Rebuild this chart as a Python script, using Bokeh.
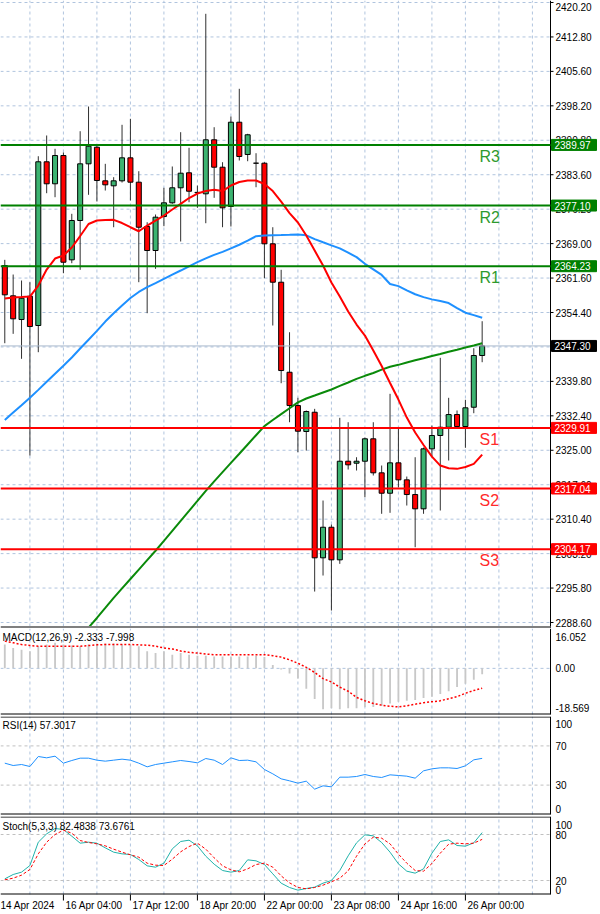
from bokeh.plotting import figure
from bokeh.layouts import column
from bokeh.models import ColumnDataSource, Range1d
from bokeh.core.properties import value
from bokeh.embed import file_html
from bokeh.resources import INLINE

FONT = value("Liberation Sans")

# ---------------- data ----------------
bar_index = list(range(58))
open_p = [2364.37, 2357.94, 2352.91, 2357.86, 2351.64, 2386.39, 2381.72, 2387.72, 2365.58, 2373.93,
          2385.96, 2389.48, 2382.35, 2381.29, 2382.35, 2387.23, 2382.06, 2372.65, 2367.56, 2374.77,
          2377.68, 2380.87, 2384.05, 2379.80, 2379.59, 2391.06, 2385.24, 2376.90, 2394.79, 2387.94,
          2386.09, 2386.09, 2368.98, 2360.83, 2341.72, 2334.65, 2329.14, 2333.23, 2302.33, 2308.82,
          2301.90, 2322.83, 2322.41, 2322.83, 2327.59, 2320.37, 2316.04, 2322.49, 2318.88, 2315.76,
          2312.73, 2325.46, 2328.29, 2330.05, 2332.74, 2330.20, 2334.29, 2345.27]
high_p = [2365.58, 2362.46, 2361.19, 2360.83, 2387.57, 2391.97, 2389.15, 2388.36, 2375.35, 2392.88,
          2398.12, 2389.85, 2385.96, 2383.12, 2394.24, 2395.51, 2384.39, 2373.56, 2375.20, 2380.87,
          2385.39, 2392.67, 2389.36, 2381.35, 2417.80, 2393.73, 2386.30, 2396.00, 2401.88, 2392.33,
          2388.21, 2386.30, 2372.50, 2363.46, 2350.21, 2336.29, 2333.60, 2333.95, 2314.49, 2309.40,
          2332.04, 2331.11, 2323.68, 2327.86, 2331.11, 2321.92, 2337.14, 2330.05, 2319.58, 2323.68,
          2325.74, 2330.41, 2344.78, 2336.29, 2333.60, 2335.87, 2346.82, 2352.55]
low_p = [2347.88, 2349.87, 2344.57, 2324.04, 2345.97, 2379.72, 2378.87, 2362.74, 2364.86, 2363.46,
         2379.38, 2377.96, 2380.29, 2372.50, 2381.99, 2378.17, 2360.83, 2354.25, 2363.67, 2372.72,
         2377.47, 2369.47, 2377.81, 2376.62, 2373.35, 2378.74, 2372.50, 2372.65, 2386.66, 2386.51,
         2380.99, 2361.68, 2351.64, 2339.39, 2331.11, 2324.74, 2325.10, 2295.17, 2298.57, 2291.14,
         2301.05, 2321.07, 2320.86, 2315.19, 2319.80, 2311.67, 2311.88, 2317.31, 2313.43, 2304.58,
         2311.67, 2323.68, 2312.37, 2322.98, 2329.77, 2325.68, 2333.02, 2343.85]
close_p = [2358.15, 2353.06, 2357.43, 2351.42, 2386.39, 2381.72, 2387.72, 2365.07, 2373.93, 2385.96,
           2389.70, 2382.42, 2381.50, 2382.35, 2387.23, 2382.06, 2372.50, 2367.56, 2374.63, 2377.68,
           2380.87, 2383.97, 2380.14, 2379.90, 2391.06, 2385.24, 2376.62, 2394.79, 2387.51, 2392.12,
           2386.09, 2368.98, 2360.83, 2342.08, 2334.65, 2329.20, 2333.38, 2302.33, 2308.82, 2301.90,
           2322.83, 2322.07, 2322.83, 2327.59, 2320.37, 2316.04, 2322.49, 2318.88, 2315.76, 2312.73,
           2325.46, 2328.29, 2330.05, 2332.74, 2330.20, 2334.17, 2345.27, 2347.30]

ma_red = [2357.36, 2357.58, 2357.68, 2357.79, 2360.12, 2363.52, 2365.85, 2366.49, 2368.19, 2370.63,
          2373.18, 2373.92, 2374.03, 2374.07, 2373.39, 2372.50, 2371.65, 2372.86, 2373.92, 2374.98,
          2376.26, 2377.47, 2378.70, 2379.65, 2380.18, 2380.44, 2380.18, 2381.35, 2382.09, 2382.41,
          2382.41, 2381.67, 2380.18, 2377.95, 2375.51, 2373.50, 2370.74, 2367.55, 2364.37, 2360.76,
          2357.79, 2354.60, 2351.84, 2349.51, 2346.33, 2343.03, 2339.43, 2335.92, 2332.10, 2328.92,
          2326.27, 2323.82, 2321.91, 2321.34, 2321.21, 2321.60, 2322.27, 2324.25]
ma_blue = [2331.57, 2333.16, 2334.71, 2336.31, 2337.98, 2339.70, 2341.40, 2343.10, 2344.86, 2346.75,
           2348.62, 2350.49, 2352.48, 2354.24, 2355.88, 2357.47, 2358.76, 2359.78, 2360.65, 2361.55,
           2362.44, 2363.31, 2364.20, 2365.09, 2365.90, 2366.64, 2367.28, 2368.00, 2368.78, 2369.65,
           2370.59, 2370.74, 2370.80, 2370.84, 2370.89, 2370.95, 2370.78, 2369.97, 2369.31, 2368.66,
           2368.02, 2367.09, 2366.15, 2364.73, 2363.56, 2362.37, 2360.44, 2360.00, 2359.10, 2358.28,
           2357.66, 2357.19, 2356.83, 2356.41, 2355.35, 2354.35, 2353.84, 2353.27]
ma_green_bars = list(range(10, 58))
ma_green = [2287.53, 2289.56, 2291.69, 2293.83, 2295.83, 2297.84, 2299.84, 2301.83, 2303.83, 2305.93,
            2308.05, 2310.18, 2312.28, 2314.40, 2316.54, 2318.56, 2320.51, 2322.47, 2324.42, 2326.39,
            2328.35, 2330.28, 2331.57, 2332.83, 2334.08, 2335.33, 2336.14, 2336.77, 2337.41, 2338.05,
            2338.81, 2339.55, 2340.32, 2340.96, 2341.57, 2342.27, 2342.89, 2343.29, 2343.78, 2344.25,
            2344.69, 2345.16, 2345.60, 2346.05, 2346.50, 2346.96, 2347.39, 2347.87]

macd_hist = [9.60, 8.23, 7.54, 6.86, 8.92, 9.60, 10.29, 9.60, 9.19, 8.92,
             9.60, 10.01, 10.01, 10.01, 9.74, 9.47, 8.92, 6.86, 6.17, 6.86,
             5.49, 6.17, 5.49, 5.08, 5.08, 4.80, 4.80, 4.80, 4.80, 4.80,
             5.08, 4.53, 1.37, -0.41, -2.06, -4.12, -8.23, -12.35, -16.46, -16.05,
             -16.46, -16.05, -16.05, -15.50, -15.50, -15.09, -14.13, -13.44, -13.03, -12.76,
             -11.93, -11.39, -10.29, -9.19, -7.54, -6.17, -4.53, -2.333]
macd_signal = [10.97, 10.29, 9.60, 9.19, 8.92, 8.92, 8.92, 8.92, 8.92, 8.92,
               9.19, 9.47, 9.60, 9.60, 9.60, 9.60, 9.47, 9.33, 8.92, 8.23,
               7.82, 7.00, 6.45, 6.17, 5.76, 5.49, 5.49, 5.49, 5.49, 5.49,
               5.49, 5.49, 5.08, 4.53, 3.43, 2.06, 0.41, -1.65, -4.12, -5.49,
               -7.54, -9.19, -11.66, -13.03, -14.13, -14.81, -15.23, -15.50, -15.09, -14.40,
               -13.85, -13.44, -13.03, -12.21, -11.39, -10.01, -8.92, -7.998]
rsi = [52.38, 50.00, 51.02, 48.98, 59.18, 57.82, 59.52, 52.38, 55.10, 57.48,
       57.48, 55.44, 54.42, 55.44, 56.46, 55.44, 52.38, 48.64, 51.02, 52.38,
       53.74, 55.10, 54.08, 52.72, 57.14, 55.44, 51.02, 57.82, 55.10, 55.44,
       53.74, 45.92, 41.50, 36.39, 34.35, 31.97, 34.01, 25.85, 29.25, 28.23,
       38.10, 38.10, 38.78, 40.82, 38.78, 37.76, 40.48, 39.80, 39.12, 37.07,
       44.56, 46.60, 47.62, 47.62, 46.94, 49.66, 55.78, 57.30]
stoch_k = [22.17, 27.83, 30.87, 39.57, 70.00, 80.87, 87.83, 86.52, 77.83, 68.70,
           70.00, 68.70, 62.61, 56.96, 54.78, 53.91, 47.39, 39.13, 37.39, 42.61,
           61.30, 70.87, 72.61, 65.22, 51.74, 41.30, 33.04, 30.87, 33.04, 46.96,
           45.65, 40.87, 28.70, 16.52, 10.87, 7.39, 9.57, 11.30, 16.52, 20.00,
           33.04, 52.17, 69.13, 79.57, 78.26, 69.57, 56.96, 41.74, 32.17, 29.57,
           35.22, 55.65, 70.87, 73.04, 65.65, 64.78, 69.13, 82.48]
stoch_d = [20.87, 23.04, 26.96, 34.35, 54.78, 70.00, 80.00, 85.65, 81.74, 72.17,
           69.57, 67.83, 65.22, 60.87, 56.96, 53.48, 50.43, 42.61, 40.00, 39.57,
           47.83, 57.39, 64.35, 68.70, 60.87, 49.57, 39.13, 33.91, 31.30, 35.22,
           40.87, 42.61, 37.39, 26.09, 16.96, 10.87, 9.13, 10.87, 13.91, 18.26,
           23.04, 32.61, 51.74, 67.83, 76.52, 75.22, 67.83, 54.35, 42.61, 33.04,
           32.17, 42.17, 55.65, 67.39, 68.70, 67.83, 68.70, 73.68]

pivot_names = ["R3", "R2", "R1", "S1", "S2", "S3"]
pivot_values = [2389.97, 2377.10, 2364.23, 2329.91, 2317.04, 2304.17]
last_price = 2347.30

price_tick_labels = ["2420.20", "2412.80", "2405.60", "2398.20", "2390.80", "2383.60", "2376.20",
                     "2369.00", "2361.60", "2354.40", "2347.00", "2339.80", "2332.40", "2325.00",
                     "2317.60", "2310.40", "2303.20", "2295.80", "2288.60"]
price_top, price_bottom = 2420.20, 2288.60

macd_hi, macd_lo = 16.052, -18.569
macd_tick_labels = ["16.052", "0.00", "-18.569"]
rsi_levels = [70, 30]
rsi_tick_labels = ["100", "70", "30", "0"]
stoch_levels = [80, 20]
stoch_tick_labels = ["100", "80", "20", "0"]

date_labels = ["14 Apr 2024", "16 Apr 04:00", "17 Apr 12:00", "18 Apr 20:00",
               "22 Apr 00:00", "23 Apr 08:00", "24 Apr 16:00", "26 Apr 00:00"]
date_bars = [-1, 7, 15, 23, 31, 39, 47, 55]

macd_text = "MACD(12,26,9) -2.333 -7.998"
rsi_text = "RSI(14) 57.3017"
stoch_text = "Stoch(5,3,3) 82.4838 73.6761"

# ---------------- geometry / style ----------------
BAR_PX = 8.375
X0 = -0.513
W = 600


def xpx(px):
    return X0 + px / BAR_PX


X_AX = xpx(550)
xr = Range1d(X0, xpx(W))
grid_bars = list(range(3, 64, 4))
GRID_C = "#B0C4DE"
LVL_C = "#C0C0C0"


def panel(frame_h):
    p = figure(frame_width=W, frame_height=frame_h, x_range=xr,
               output_backend="svg", toolbar_location=None, title=None,
               min_border_left=0, min_border_right=0, min_border_top=0, min_border_bottom=0,
               x_axis_location=None, y_axis_location=None)
    p.background_fill_color = "white"
    p.border_fill_color = "white"
    p.outline_line_color = None
    p.grid.visible = False
    return p


def vgrid(p, lo, hi):
    p.segment(x0=grid_bars, y0=[lo] * len(grid_bars), x1=grid_bars, y1=[hi] * len(grid_bars),
              line_color=GRID_C, line_width=1, line_dash="3 3")


def hline(p, ys, color, width=1, dash="solid"):
    p.segment(x0=[X0] * len(ys), y0=ys, x1=[X_AX] * len(ys), y1=ys,
              line_color=color, line_width=width, line_dash=dash)


def axis_labels(p, ys, labels, lo, hi, tick_ys=None):
    p.segment(x0=[X_AX], y0=[lo], x1=[X_AX], y1=[hi], line_color="black", line_width=1)
    if tick_ys is not None:
        p.segment(x0=[X_AX] * len(tick_ys), y0=tick_ys, x1=[xpx(553)] * len(tick_ys), y1=tick_ys,
                  line_color="black", line_width=1)
    p.text(x=[xpx(555)] * len(ys), y=ys, text=labels, text_font=FONT, text_font_size="10px",
           text_color="black", text_align="left", text_baseline="middle")


def title_text(p, y, txt):
    p.text(x=[xpx(2)], y=[y], text=[txt], text_font=FONT, text_font_size="10px",
           text_color="black", text_align="left", text_baseline="middle")


# ---------------- main price panel (0..628 px) ----------------
PPU = 620 / (price_top - price_bottom)
M_TOP = price_top + 2 / PPU


def mv(px):
    return M_TOP - px / PPU


pm = panel(628)
pm.y_range = Range1d(mv(628), M_TOP)
step = (price_top - price_bottom) / 18
ptk = [price_top - k * step for k in range(19)]
hline(pm, ptk, GRID_C, 1, "3 3")
vgrid(pm, mv(626), M_TOP)

top = [max(o, c) for o, c in zip(open_p, close_p)]
bot = [min(o, c) for o, c in zip(open_p, close_p)]
col = ["#3CB371" if c >= o else "#FF0000" for o, c in zip(open_p, close_p)]
src = ColumnDataSource(dict(x=bar_index, h=high_p, l=low_p, top=top, bot=bot, col=col))
pm.segment(x0="x", y0="l", x1="x", y1="h", source=src, line_color="#303030", line_width=1)
pm.vbar(x="x", width=0.6, top="top", bottom="bot", source=src,
        fill_color="col", line_color="black", line_width=1)

hline(pm, [last_price], "#A8B8CC", 1)
pm.line(bar_index, ma_blue, line_color="#1E90FF", line_width=2)
pm.line(ma_green_bars, ma_green, line_color="#0A8A0A", line_width=2)
pm.line(bar_index, ma_red, line_color="#FF0000", line_width=2)

# top label nudged down a few px so it stays inside the page
label_ys = [mv(6)] + ptk[1:]
axis_labels(pm, label_ys, price_tick_labels, mv(628), M_TOP, ptk)

box_l, box_r, box_h = xpx(551), xpx(596), 5.5 / PPU
for name, val in zip(pivot_names, pivot_values):
    is_r = name.startswith("R")
    lc = "#008000" if is_r else "#FF0000"
    hline(pm, [val], lc, 2)
    pm.text(x=[xpx(479)], y=[val - 11.5 / PPU], text=[name], text_font=FONT,
            text_font_size="16px", text_color="#2E9A2E" if is_r else "#FF2A2A",
            text_align="left", text_baseline="middle")
    pm.quad(left=[box_l], right=[box_r], top=[val + box_h], bottom=[val - box_h],
            fill_color=lc, line_color=lc)
    pm.text(x=[xpx(554)], y=[val], text=[f"{val:.2f}"], text_font=FONT, text_font_size="10px",
            text_color="white", text_align="left", text_baseline="middle")
pm.quad(left=[box_l], right=[box_r], top=[last_price + box_h], bottom=[last_price - box_h],
        fill_color="black", line_color="black")
pm.text(x=[xpx(554)], y=[last_price], text=[f"{last_price:.2f}"], text_font=FONT,
        text_font_size="10px", text_color="white", text_align="left", text_baseline="middle")
hline(pm, [mv(627)], "#808080", 3)

# ---------------- MACD (628..716 px) ----------------
MU = (macd_hi - macd_lo) / 86


def macv(px):
    return macd_hi - (px - 628) * MU


pmacd = panel(88)
pmacd.y_range = Range1d(macv(716), macd_hi)
vgrid(pmacd, macd_lo, macd_hi)
hline(pmacd, [0], GRID_C, 1, "3 3")
pmacd.vbar(x=bar_index, top=macd_hist, bottom=0, width=0.22, fill_color="#C8C8C8", line_color=None)
pmacd.line(bar_index, macd_signal, line_color="#FF0000", line_width=1.5, line_dash="2 2")
hline(pmacd, [macv(713.5)], "black", 1)
axis_labels(pmacd, [macv(636), 0, macv(707)], macd_tick_labels, macv(714), macd_hi)
title_text(pmacd, macv(637), macd_text)

# ---------------- RSI (716..816 px) ----------------
RU = 100 / 98


def rv(px):
    return 100 - (px - 716) * RU


prsi = panel(100)
prsi.y_range = Range1d(rv(816), 100)
vgrid(prsi, 0, 100)
hline(prsi, rsi_levels, LVL_C, 1, "3 3")
prsi.line(bar_index, rsi, line_color="#1E90FF", line_width=1)
hline(prsi, [rv(716.5), rv(813.5)], "black", 1)
axis_labels(prsi, [rv(723), 70, 30, rv(808)], rsi_tick_labels, 0, 100)
title_text(prsi, rv(725), rsi_text)

# ---------------- Stochastic (816..914 px) ----------------
S_HI, S_LO = 103.5, 1.74
SU = (S_HI - S_LO) / 78


def sv(px):
    return S_HI - (px - 816) * SU


pst = panel(98)
pst.y_range = Range1d(sv(914), S_HI)
vgrid(pst, S_LO, S_HI)
hline(pst, stoch_levels, LVL_C, 1, "3 3")
pst.line(bar_index, stoch_k, line_color="#20B2AA", line_width=1)
pst.line(bar_index, stoch_d, line_color="#FF0000", line_width=1, line_dash="3 2")
hline(pst, [sv(816.5), sv(893.5)], "black", 1)
axis_labels(pst, [sv(824), 80, 20, sv(889)], stoch_tick_labels, S_LO, S_HI)
title_text(pst, sv(826), stoch_text)
tb = date_bars[1:]
pst.segment(x0=tb, y0=[sv(894)] * len(tb), x1=tb, y1=[sv(900)] * len(tb),
            line_color="black", line_width=1)
date_x = [xpx(0)] + [b + 2 / BAR_PX for b in tb]
pst.text(x=date_x, y=[sv(905)] * len(date_x), text=date_labels, text_font=FONT,
         text_font_size="10px", text_color="black", text_align="left", text_baseline="middle")

layout = column(pm, pmacd, prsi, pst, spacing=0)
html = file_html(layout, INLINE, title="XAUUSD H4")
html = html.replace("<head>", "<head><style>html,body{margin:0;padding:0;background:white;}</style>", 1)
open("out.html", "w").write(html)
